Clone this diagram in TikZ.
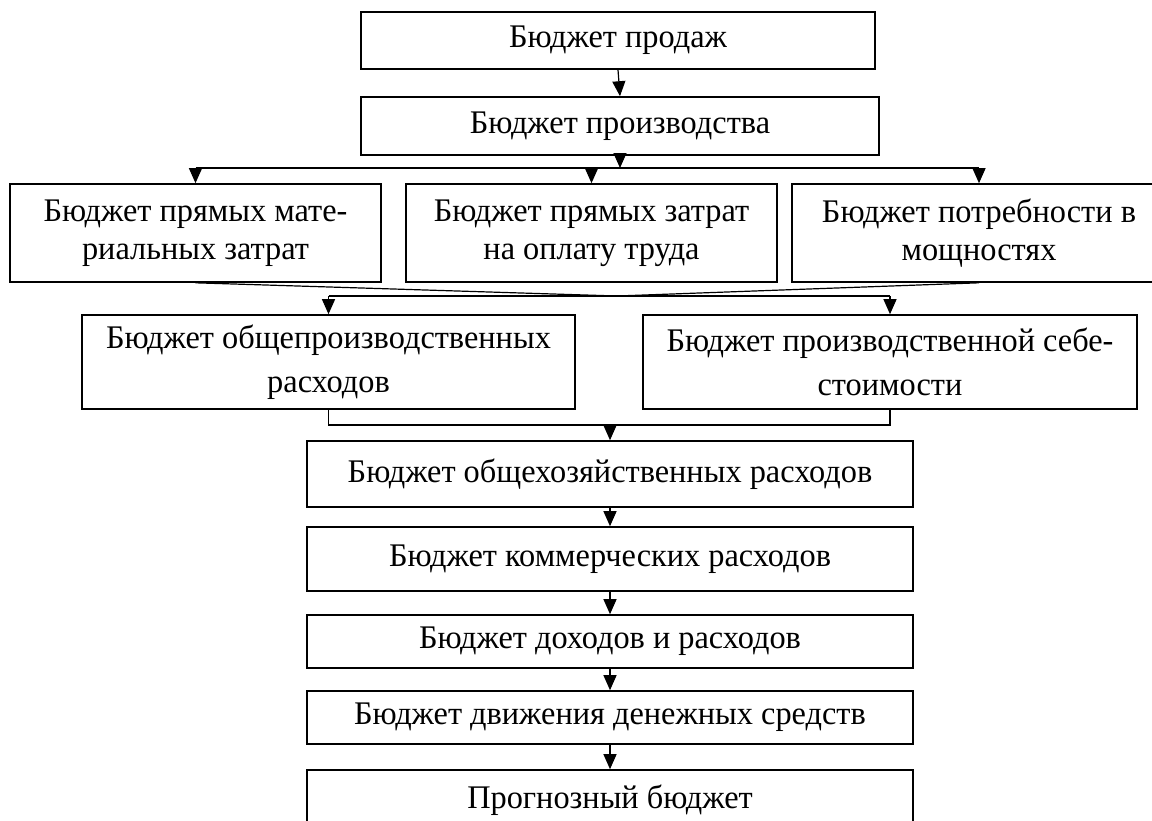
\documentclass[tikz,border=0pt]{standalone}
\usepackage{fontspec}
\setmainfont{Liberation Serif}[FakeStretch=0.98]
\usetikzlibrary{arrows.meta}

\begin{document}
\begin{tikzpicture}[x=1pt, y=-1pt,
    box/.style={draw, line width=1.6pt, rectangle, inner sep=0pt, align=center,
        font=\fontsize{33}{38}\selectfont},
    wide/.style={font=\fontsize{33}{44}\selectfont},
    arr/.style={line width=1.2pt, -{Triangle[length=15pt,width=13pt]}},
    link/.style={line width=1.2pt}]
    \useasboundingbox (0,0) rectangle (1152,820);
    \clip (0,0) rectangle (1152,820);
    % top chain
    \node[box, minimum width=514pt, minimum height=57pt] (sales) at (618,40.5) {Бюджет продаж};
    \node[box, minimum width=518pt, minimum height=58pt] (prod) at (620,126) {Бюджет производства};
    % third row
    \node[box, minimum width=371pt, minimum height=98pt] (mat) at (195.5,233) {Бюджет прямых мате-\\риальных затрат};
    \node[box, minimum width=371pt, minimum height=98pt] (lab) at (591.5,233) {Бюджет прямых затрат\\на оплату труда};
    \node[box, minimum width=374pt, minimum height=98pt] (cap) at (979,233) {Бюджет потребности в\\мощностях};
    % fourth row
    \node[box, wide, minimum width=493pt, minimum height=94pt] (ovh) at (328.5,362) {Бюджет общепроизводственных\\расходов};
    \node[box, wide, minimum width=494pt, minimum height=94pt] (cost) at (890,362) {Бюджет производственной себе-\\стоимости};
    % bottom chain
    \node[box, minimum width=606pt, minimum height=66pt] (adm) at (610,474) {Бюджет общехозяйственных расходов};
    \node[box, minimum width=606pt, minimum height=64pt] (com) at (610,559) {Бюджет коммерческих расходов};
    \node[box, minimum width=606pt, minimum height=53pt] (inc) at (610,641.5) {Бюджет доходов и расходов};
    \node[box, minimum width=606pt, minimum height=53pt] (cash) at (610,717.5) {Бюджет движения денежных средств};
    \node[box, minimum width=606pt, minimum height=60pt] (fcst) at (610,800) {Прогнозный бюджет};

    \coordinate (j1) at (620,168);
    \coordinate (j2) at (617,296);
    \coordinate (j3) at (610,425);

    \draw[arr] (sales.south) -- (prod.north);
    \draw[arr] (prod.south) -- (j1);
    \draw[link] (mat.north |- j1) -- (cap.north |- j1);
    \draw[arr] (mat.north |- j1) -- (mat.north);
    \draw[arr] (lab.north |- j1) -- (lab.north);
    \draw[arr] (cap.north |- j1) -- (cap.north);

    \draw[link] (mat.south) -- (j2) -- (cap.south);
    \draw[link] (ovh.north |- j2) -- (cost.north |- j2);
    \draw[arr] (ovh.north |- j2) -- (ovh.north);
    \draw[arr] (cost.north |- j2) -- (cost.north);

    \draw[link] (ovh.south) -- (ovh.south |- j3) -- (cost.south |- j3) -- (cost.south);
    \draw[arr] (j3) -- (adm.north);
    \draw[arr] (adm.south) -- (com.north);
    \draw[arr] (com.south) -- (inc.north);
    \draw[arr] (inc.south) -- (cash.north);
    \draw[arr] (cash.south) -- (fcst.north);
\end{tikzpicture}
\end{document}
